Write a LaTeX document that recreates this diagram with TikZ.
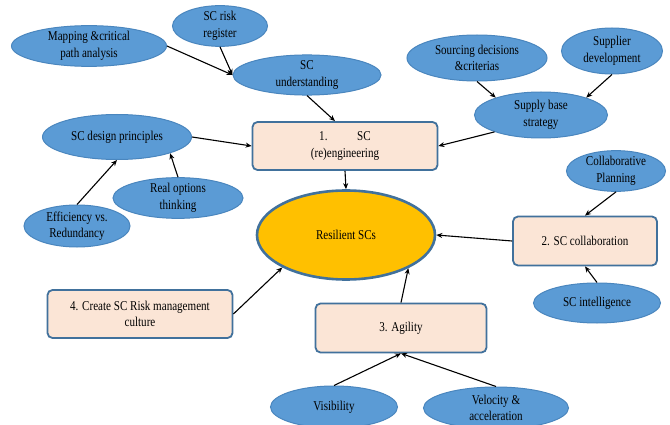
\documentclass[tikz,border=0pt]{standalone}
\usepackage{fontspec}
\setmainfont{Liberation Serif}[FakeStretch=0.82]
\usetikzlibrary{shapes.geometric,arrows.meta}
\definecolor{ellfill}{HTML}{5B9BD5}
\definecolor{ellline}{HTML}{4A86BE}
\definecolor{boxfill}{HTML}{FBE5D6}
\definecolor{boxline}{HTML}{41719C}
\definecolor{gold}{HTML}{FFC000}
\tikzset{
  txt/.style={font=\fontsize{13.5}{16.5}\selectfont, align=center, text=black},
  bub/.style={txt, ellipse, fill=ellfill, draw=ellline, line width=1pt, inner sep=0pt},
  card/.style={txt, rectangle, rounded corners=5pt, fill=boxfill, draw=boxline, line width=1.8pt, inner sep=0pt},
  arr/.style={draw=black, line width=1.1pt, -{Stealth[length=6pt,width=5pt]}}
}
\begin{document}
\begin{tikzpicture}[x=1pt,y=-1pt]
\useasboundingbox (0,0) rectangle (670,425);
\fill[white] (0,0) rectangle (670,425);
\begin{scope}
\clip (0,0) rectangle (670,425);
% ellipses
\node[bub, minimum width=155pt, minimum height=38pt] (map) at (89,46) {Mapping \&critical\\path analysis};
\node[bub, minimum width=95pt, minimum height=32pt] (reg) at (220,26) {SC risk\\register};
\node[bub, minimum width=148pt, minimum height=40pt] (und) at (307,75) {SC\\understanding};
\node[bub, minimum width=140pt, minimum height=46pt] (src) at (477,58) {Sourcing decisions\\\&criterias};
\node[bub, minimum width=101pt, minimum height=46pt] (sdev) at (612,51) {Supplier\\development};
\node[bub, minimum width=133pt, minimum height=46pt] (sup) at (541,115) {Supply base\\strategy};
\node[bub, minimum width=149pt, minimum height=45pt] (des) at (117,137) {SC design principles};
\node[bub, minimum width=130pt, minimum height=40pt] (ro) at (178,198) {Real options\\thinking};
\node[bub, minimum width=106pt, minimum height=42pt] (eff) at (77,226) {Efficiency vs.\\Redundancy};
\node[bub, minimum width=99pt, minimum height=38pt] (cp) at (616,171) {Collaborative\\Planning};
\node[bub, minimum width=127pt, minimum height=40pt] (sci) at (597,303) {SC intelligence};
\node[bub, minimum width=127pt, minimum height=42pt] (vis) at (334,407) {Visibility};
\node[bub, minimum width=145pt, minimum height=42pt] (vel) at (496,408) {Velocity \&\\acceleration};
% boxes
\node[card, minimum width=185pt, minimum height=48pt] (b1) at (345,146) {1.\hspace{2.2em}SC\\(re)engineering};
\node[card, minimum width=144pt, minimum height=49pt] (b2) at (585,241) {2. SC collaboration};
\node[card, minimum width=171pt, minimum height=49pt] (b3) at (401,328) {3. Agility};
\node[card, minimum width=185pt, minimum height=48pt] (b4) at (140,314) {4. Create SC Risk management\\culture};
% central
\node[txt, ellipse, fill=gold, draw=boxline, line width=2.6pt, minimum width=178pt, minimum height=89pt, inner sep=0pt] (res) at (346,235) {Resilient SCs};
\end{scope}
% connectors
\draw[arr] (map.east) -- (und.west);
\draw[arr] (reg.south) -- (und.west);
\draw[arr] (und.south) -- ([xshift=-10pt]b1.north);
\draw[arr] (src.south) -- (sup.159);
\draw[arr] (sdev.south) -- (sup.21);
\draw[arr] (sup.200) -- (b1.east);
\draw[arr] (des.east) -- (b1.west);
\draw[arr] (eff.north) -- (des.south);
\draw[arr] (ro.north) -- (des.-17);
\draw[arr] (b1.south) -- (res.north);
\draw[arr] (cp.south) -- (b2.north);
\draw[arr] (sci.north) -- (b2.south);
\draw[arr] (b2.west) -- (res.east);
\draw[arr] (b3.north) -- (res.-28);
\draw[arr] (b4.east) -- (res.207);
\draw[arr] (vis.north) -- (b3.south);
\draw[arr] (vel.north) -- (b3.south);
\end{tikzpicture}
\end{document}
